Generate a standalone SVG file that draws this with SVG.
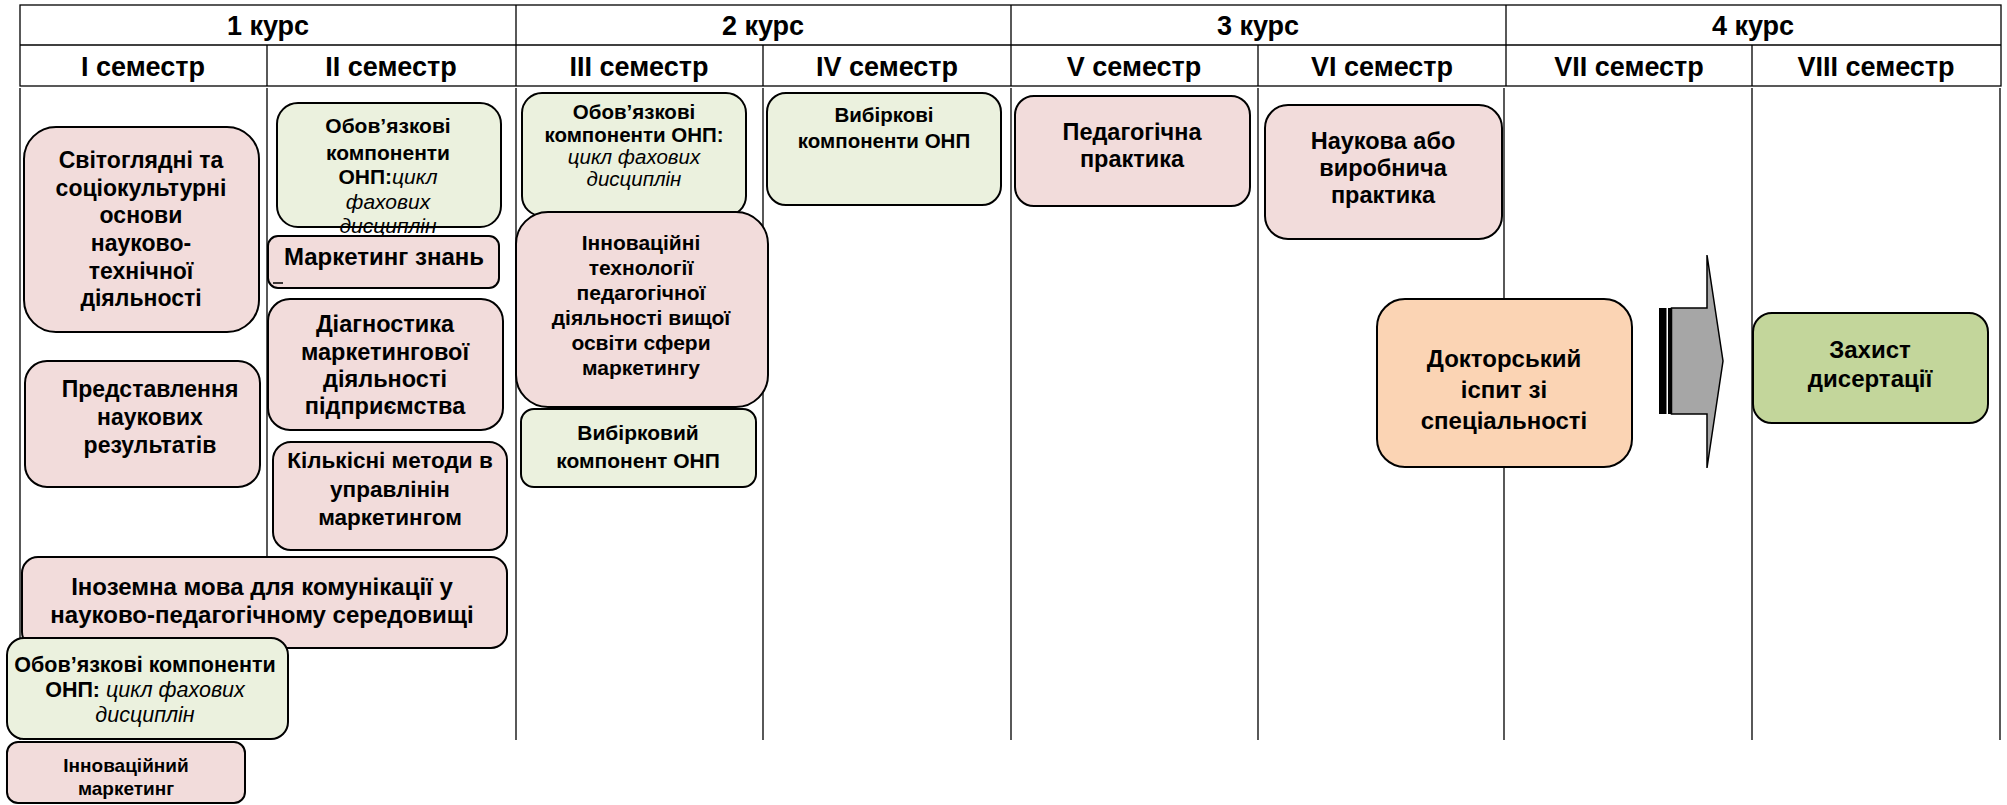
<svg xmlns="http://www.w3.org/2000/svg" width="2007" height="805" viewBox="0 0 2007 805">
<style>
.t{font-family:"Liberation Sans",Arial,sans-serif;font-weight:bold;text-anchor:middle;fill:#000}
.i{font-style:italic;font-weight:normal}
.h1{font-size:27px}
.box{stroke:#000;stroke-width:2}
.pink{fill:#F2DCDB}
.green{fill:#EBF1DE}
.peach{fill:#FBD4B4}
.olive{fill:#C3D69B}
.grid{stroke:#000;stroke-width:1.3;fill:none}
</style>
<rect width="2007" height="805" fill="#fff"/>
<g id="table">
<rect class="grid" x="20" y="5" width="1981" height="81"/>
<line class="grid" x1="20" y1="45" x2="2001" y2="45"/>
<path class="grid" d="M516 5V86M1011 5V86M1506 5V86M267 45V86M763 45V86M1258 45V86M1752 45V86"/>
<path class="grid" d="M20 88V740M267 88V740M516 88V740M763 88V740M1011 88V740M1258 88V740M1504 88V740M1752 88V740M2000 88V740"/>
<g class="t h1">
<text x="268" y="35">1 курс</text>
<text x="763" y="35">2 курс</text>
<text x="1258" y="35">3 курс</text>
<text x="1753" y="35">4 курс</text>
<text x="143" y="76">I семестр</text>
<text x="391" y="76">II семестр</text>
<text x="639" y="76">III семестр</text>
<text x="887" y="76">IV семестр</text>
<text x="1134" y="76">V семестр</text>
<text x="1382" y="76">VI семестр</text>
<text x="1629" y="76">VII семестр</text>
<text x="1876" y="76">VIII семестр</text>
</g>
</g>
<g id="n-svitohliadni">
<rect class="box pink" x="24" y="127" width="235" height="205" rx="32"/>
<g class="t" font-size="23">
<text x="141" y="168">Світоглядні та</text>
<text x="141" y="196">соціокультурні</text>
<text x="141" y="223">основи</text>
<text x="141" y="251">науково-</text>
<text x="141" y="279">технічної</text>
<text x="141" y="306">діяльності</text>
</g>
</g>
<g id="n-predstavlennia">
<rect class="box pink" x="25" y="361" width="235" height="126" rx="22"/>
<g class="t" font-size="23">
<text x="150" y="397">Представлення</text>
<text x="150" y="425">наукових</text>
<text x="150" y="453">результатів</text>
</g>
</g>
<g id="n-obov2">
<rect class="box green" x="277" y="103" width="224" height="124" rx="21"/>
<g class="t" font-size="21">
<text x="388" y="133">Обов’язкові</text>
<text x="388" y="160">компоненти</text>
<text x="388" y="184">ОНП:<tspan class="i">цикл</tspan></text>
<text class="t i" x="388" y="209">фахових</text>
<text class="t i" x="388" y="233">дисциплін</text>
</g>
</g>
<g id="n-marketing-znan">
<rect class="box pink" x="268" y="236" width="231" height="52" rx="10"/>
<text class="t" font-size="24" x="384" y="265">Маркетинг знань</text>
<line x1="273" y1="283" x2="283" y2="283" stroke="#000" stroke-width="1.5"/>
</g>
<g id="n-diahnostyka">
<rect class="box pink" x="268" y="299" width="235" height="131" rx="22"/>
<g class="t" font-size="23.5">
<text x="385" y="332">Діагностика</text>
<text x="385" y="360">маркетингової</text>
<text x="385" y="387">діяльності</text>
<text x="385" y="414">підприємства</text>
</g>
</g>
<g id="n-kilkisni">
<rect class="box pink" x="273" y="442" width="234" height="108" rx="18"/>
<g class="t" font-size="22.5">
<text x="390" y="468">Кількісні методи в</text>
<text x="390" y="497">управлінін</text>
<text x="390" y="525">маркетингом</text>
</g>
</g>
<g id="n-obov3">
<rect class="box green" x="522" y="93" width="224" height="123" rx="20"/>
<g class="t" font-size="20.5">
<text x="634" y="119">Обов’язкові</text>
<text x="634" y="142">компоненти ОНП:</text>
<text class="t i" x="634" y="164">цикл фахових</text>
<text class="t i" x="634" y="186">дисциплін</text>
</g>
</g>
<g id="n-vybirkovi4">
<rect class="box green" x="767" y="93" width="234" height="112" rx="19"/>
<g class="t" font-size="20.5">
<text x="884" y="122">Вибіркові</text>
<text x="884" y="148">компоненти ОНП</text>
</g>
</g>
<g id="n-innovatsiini">
<rect class="box pink" x="516" y="212" width="252" height="195" rx="32"/>
<g class="t" font-size="21">
<text x="641" y="250">Інноваційні</text>
<text x="641" y="275">технології</text>
<text x="641" y="300">педагогічної</text>
<text x="641" y="325">діяльності вищої</text>
<text x="641" y="350">освіти сфери</text>
<text x="641" y="375">маркетингу</text>
</g>
</g>
<g id="n-vybirkovyi3">
<rect class="box green" x="521" y="409" width="235" height="78" rx="13"/>
<g class="t" font-size="21">
<text x="638" y="440">Вибірковий</text>
<text x="638" y="468">компонент ОНП</text>
</g>
</g>
<g id="n-pedpraktyka">
<rect class="box pink" x="1015" y="96" width="235" height="110" rx="19"/>
<g class="t" font-size="23.5">
<text x="1132" y="140">Педагогічна</text>
<text x="1132" y="167">практика</text>
</g>
</g>
<g id="n-naukova">
<rect class="box pink" x="1265" y="105" width="237" height="134" rx="23"/>
<g class="t" font-size="23.5">
<text x="1383" y="149">Наукова або</text>
<text x="1383" y="176">виробнича</text>
<text x="1383" y="203">практика</text>
</g>
</g>
<g id="n-doktorskyi">
<rect class="box peach" x="1377" y="299" width="255" height="168" rx="28"/>
<g class="t" font-size="24">
<text x="1504" y="367">Докторський</text>
<text x="1504" y="398">іспит зі</text>
<text x="1504" y="429">спеціальності</text>
</g>
</g>
<g id="n-zakhyst">
<rect class="box olive" x="1753" y="313" width="235" height="110" rx="19"/>
<g class="t" font-size="24">
<text x="1870" y="358">Захист</text>
<text x="1870" y="387">дисертації</text>
</g>
</g>
<g id="n-inozemna">
<rect class="box pink" x="22" y="557" width="485" height="91" rx="16"/>
<g class="t" font-size="24">
<text x="262" y="595">Іноземна мова для комунікації у</text>
<text x="262" y="623">науково-педагогічному середовищі</text>
</g>
</g>
<g id="n-obov1">
<rect class="box green" x="7" y="638" width="281" height="101" rx="17"/>
<g class="t" font-size="21.5">
<text x="145" y="672">Обов’язкові компоненти</text>
<text x="145" y="697">ОНП: <tspan class="i">цикл фахових</tspan></text>
<text class="t i" x="145" y="722">дисциплін</text>
</g>
</g>
<g id="n-innov-marketing">
<rect class="box pink" x="7" y="742" width="238" height="61" rx="11"/>
<g class="t" font-size="19">
<text x="126" y="772">Інноваційний</text>
<text x="126" y="795">маркетинг</text>
</g>
</g>
<g id="connectors">
<rect x="1659" y="308" width="7.5" height="106" fill="#000"/>
<rect x="1668" y="308" width="3.5" height="106" fill="#000"/>
<polygon points="1671.5,308 1707,308 1707,255 1723,361 1707,468 1707,414 1671.5,414" fill="#A6A6A6" stroke="#000" stroke-width="1.5" stroke-linejoin="miter"/>
</g>
</svg>
